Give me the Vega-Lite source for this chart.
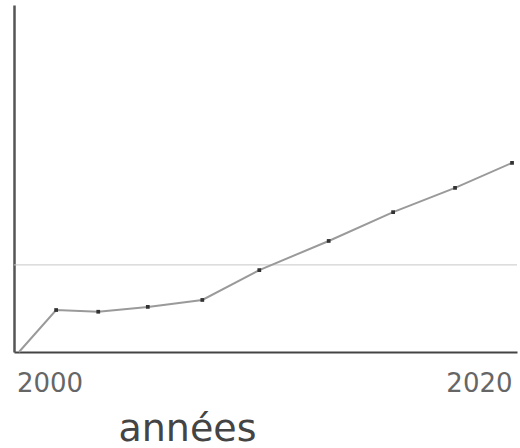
{
  "$schema": "https://vega.github.io/schema/vega-lite/v6.json",
  "width": 503,
  "height": 347,
  "autosize": "none",
  "padding": {"left": 14, "top": 5, "right": 3, "bottom": 96},
  "background": "white",
  "config": {"view": {"stroke": null}, "font": "DejaVu Sans"},
  "data": {"values": [
    {"annee": 2000.1, "valeur": 0, "marque": false},
    {"annee": 2001.6, "valeur": 12.1, "marque": true},
    {"annee": 2003.3, "valeur": 11.6, "marque": true},
    {"annee": 2005.3, "valeur": 13.0, "marque": true},
    {"annee": 2007.5, "valeur": 15.0, "marque": true},
    {"annee": 2009.8, "valeur": 23.6, "marque": true},
    {"annee": 2012.6, "valeur": 32.0, "marque": true},
    {"annee": 2015.2, "valeur": 40.3, "marque": true},
    {"annee": 2017.7, "valeur": 47.3, "marque": true},
    {"annee": 2020.0, "valeur": 54.5, "marque": true}
  ]},
  "layer": [
    {
      "data": {"values": [{"ref": 25.1}]},
      "mark": {"type": "rule", "color": "#c8c8c8", "strokeWidth": 1},
      "encoding": {"y": {"field": "ref", "type": "quantitative", "scale": {"domain": [0, 100]}}}
    },
    {
      "mark": {"type": "line", "color": "#9a9a9a", "strokeWidth": 2},
      "encoding": {
        "x": {"field": "annee", "type": "quantitative", "scale": {"domain": [1999.9, 2020.2], "nice": false},
          "axis": {"values": [2000, 2020], "format": "d", "ticks": false, "grid": false,
            "labelAlign": {"condition": {"test": "datum.value < 2010", "value": "left"}, "value": "right"},
            "domainColor": "#444", "domainWidth": 2, "labelFontSize": 26, "labelColor": "#666",
            "labelPadding": 18, "title": "années", "titleFontSize": 38, "titleFontWeight": "normal",
            "titleColor": "#444", "titleX": 173, "titleY": 88, "titleAlign": "center", "titleBaseline": "alphabetic"}},
        "y": {"field": "valeur", "type": "quantitative", "scale": {"domain": [0, 100]},
          "axis": {"labels": false, "ticks": false, "grid": false, "title": null, "domainColor": "#555", "domainWidth": 2.5}}
      }
    },
    {
      "transform": [{"filter": "datum.marque"}],
      "mark": {"type": "point", "shape": "square", "filled": true, "color": "#333", "size": 14, "opacity": 1},
      "encoding": {
        "x": {"field": "annee", "type": "quantitative"},
        "y": {"field": "valeur", "type": "quantitative"}
      }
    }
  ]
}
